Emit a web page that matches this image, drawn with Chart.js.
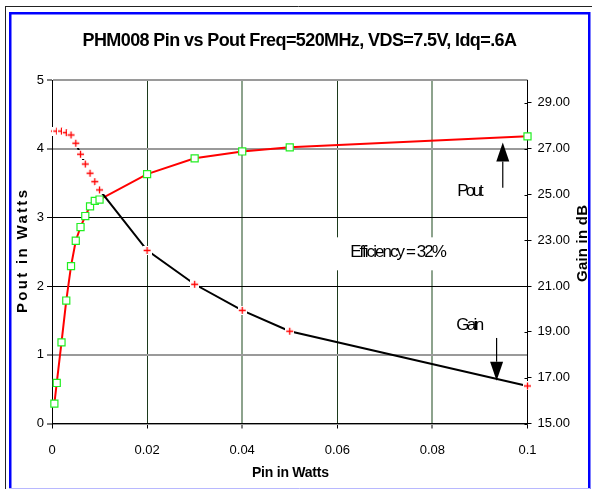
<!DOCTYPE html>
<html>
<head>
<meta charset="utf-8">
<title>PHM008 Pin vs Pout</title>
<style>
  html, body { margin: 0; padding: 0; background: #fff; }
  canvas { display: block; }
</style>
<script src="https://cdn.jsdelivr.net/npm/chart.js@4.4.1/dist/chart.umd.min.js"></script>
</head>
<body>
<canvas id="chart" width="592" height="489"></canvas>
<script>
// values
const pinW = [0.0005, 0.001, 0.002, 0.003, 0.004, 0.005, 0.006, 0.007, 0.008, 0.009, 0.01, 0.02, 0.03, 0.04, 0.05, 0.1];
const poutW = [0.29, 0.59, 1.18, 1.79, 2.29, 2.66, 2.86, 3.02, 3.16, 3.24, 3.26, 3.63, 3.86, 3.96, 4.02, 4.18];
const gainDb = [27.77, 27.77, 27.77, 27.70, 27.60, 27.24, 26.76, 26.33, 25.93, 25.56, 25.20, 22.56, 21.08, 19.94, 19.03, 16.64];
const gainTicks = [15, 17, 19, 21, 23, 25, 27, 29];

const chartTitle = "PHM008 Pin vs Pout Freq=520MHz, VDS=7.5V, Idq=.6A";
const FONT = "'Liberation Sans', Arial, sans-serif";

// "+" marker with a small white box behind it (hides the line, like the original)
function crossMarker() {
  const c = document.createElement("canvas");
  c.width = 9;
  c.height = 9;
  const g = c.getContext("2d");
  g.fillStyle = "#fff";
  g.fillRect(0, 0, 9, 9);
  g.strokeStyle = "#ff0000";
  g.lineWidth = 1.3;
  g.beginPath();
  g.moveTo(1, 4.5); g.lineTo(8, 4.5);
  g.moveTo(4.5, 1); g.lineTo(4.5, 8);
  g.stroke();
  return c;
}

// draw text squeezed / stretched to a given width (Excel renders it condensed)
function drawFit(ctx, text, font, x, y, width, angle) {
  ctx.save();
  ctx.font = font;
  ctx.letterSpacing = "0px";
  const w = ctx.measureText(text).width;
  ctx.letterSpacing = ((width - w) / (text.length - 1)) + "px";
  ctx.translate(x, y);
  ctx.rotate(angle || 0);
  ctx.textAlign = "left";
  ctx.textBaseline = "alphabetic";
  ctx.fillStyle = "#000";
  ctx.fillText(text, 0, 0);
  ctx.restore();
  ctx.letterSpacing = "0px";
}

function arrow(ctx, x, yTail, yTip) {
  const dir = yTip < yTail ? -1 : 1;
  const headLen = 19, headW = 13;
  ctx.save();
  ctx.strokeStyle = "#000";
  ctx.fillStyle = "#000";
  ctx.lineWidth = 1.2;
  ctx.beginPath();
  ctx.moveTo(x, yTail);
  ctx.lineTo(x, yTip - dir * headLen);
  ctx.stroke();
  ctx.beginPath();
  ctx.moveTo(x, yTip);
  ctx.lineTo(x - headW / 2, yTip - dir * headLen);
  ctx.lineTo(x + headW / 2, yTip - dir * headLen);
  ctx.closePath();
  ctx.fill();
  ctx.restore();
}

const framePlugin = {
  id: "frame",
  beforeDraw(chart) {
    const ctx = chart.ctx;
    ctx.save();
    ctx.fillStyle = "#fff";
    ctx.fillRect(0, 0, chart.width, chart.height);
    ctx.strokeStyle = "#222";
    ctx.lineWidth = 1;
    ctx.beginPath();
    ctx.moveTo(5, 6.5); ctx.lineTo(chart.width, 6.5);
    ctx.moveTo(5.5, 6); ctx.lineTo(5.5, chart.height);
    ctx.stroke();
    ctx.strokeStyle = "#0000ff";
    ctx.lineWidth = 2.5;
    ctx.strokeRect(10.25, 13.25, 579, 482);
    ctx.strokeStyle = "#b8b8ff";
    ctx.lineWidth = 1;
    ctx.beginPath();
    ctx.moveTo(9, 488.5); ctx.lineTo(590, 488.5);
    ctx.stroke();
    ctx.restore();
  },
  afterDraw(chart) {
    const ctx = chart.ctx;
    const xs = chart.scales.x, yl = chart.scales.y, yr = chart.scales.gain;

    // right axis ticks cross the axis line
    ctx.save();
    ctx.strokeStyle = "#000";
    ctx.lineWidth = 1;
    ctx.beginPath();
    yr.ticks.forEach(t => {
      const y = Math.round(yr.getPixelForValue(t.value)) + 0.5;
      ctx.moveTo(yr.left - 3, y); ctx.lineTo(yr.left, y);
    });
    ctx.stroke();
    ctx.restore();

    // titles
    drawFit(ctx, chartTitle, "bold 18px " + FONT, 82.5, 45.7, 434.5);
    drawFit(ctx, "Pout in Watts", "bold 15px " + FONT, 26.8, 313, 123, -Math.PI / 2);
    drawFit(ctx, "Gain in dB", "bold 15px " + FONT, 586.5, 282, 77, -Math.PI / 2);
    drawFit(ctx, "Pin in Watts", "bold 14px " + FONT, 252, 476.5, 77);

    // efficiency note on a white box
    const ex = xs.getPixelForValue(0.0627), ey = yl.getPixelForValue(2.419);
    ctx.save();
    ctx.fillStyle = "#fff";
    ctx.fillRect(ex - 16, ey - 20, 118, 33);
    ctx.restore();
    drawFit(ctx, "Efficiency = 32%", "17px " + FONT, ex, ey, 96.7);

    // series notes with arrows
    drawFit(ctx, "Pout", "17px " + FONT, xs.getPixelForValue(0.0852), yl.getPixelForValue(3.311), 26.7);
    drawFit(ctx, "Gain", "17px " + FONT, xs.getPixelForValue(0.0850), yl.getPixelForValue(1.361), 28);
    arrow(ctx, xs.getPixelForValue(0.0948), yl.getPixelForValue(3.43), yl.getPixelForValue(4.09));
    arrow(ctx, xs.getPixelForValue(0.0935), yl.getPixelForValue(1.245), yl.getPixelForValue(0.623));
  }
};

const near = (a, b) => Math.abs(a - b) < 1e-9;
const tickFont = { family: FONT, size: 13 };

new Chart(document.getElementById("chart"), {
  type: "line",
  data: {
    datasets: [
      {
        label: "Gain",
        data: pinW.map((x, i) => ({ x: x, y: gainDb[i] })),
        yAxisID: "gain",
        borderColor: "#000",
        borderWidth: 2,
        pointStyle: crossMarker(),
        tension: 0,
        clip: false
      },
      {
        label: "Pout",
        data: pinW.map((x, i) => ({ x: x, y: poutW[i] })),
        yAxisID: "y",
        borderColor: "#ff0000",
        borderWidth: 2,
        pointStyle: "rect",
        pointRadius: 5,
        pointBorderColor: "#22ee22",
        pointBackgroundColor: "#fff",
        pointBorderWidth: 1.2,
        tension: 0,
        clip: false
      }
    ]
  },
  options: {
    responsive: false,
    animation: false,
    layout: { padding: { top: 80, left: 0, right: 0, bottom: 0 } },
    plugins: {
      legend: { display: false },
      title: { display: false },
      tooltip: { enabled: false }
    },
    scales: {
      x: {
        type: "linear",
        min: 0,
        max: 0.1,
        ticks: {
          stepSize: 0.02, color: "#000", font: tickFont, padding: 14,
          callback: v => String(Number(v.toFixed(4)))
        },
        grid: {
          color: c => (near(c.tick.value, 0.04) || near(c.tick.value, 0.08)) ? "#8da38d" :
                      (near(c.tick.value, 0.02) || near(c.tick.value, 0.06)) ? "#1c3a1c" : "#000",
          lineWidth: c => (near(c.tick.value, 0.04) || near(c.tick.value, 0.08)) ? 2 : 1,
          tickColor: "#000",
          tickWidth: 1,
          tickLength: 5
        },
        border: { color: "#000", width: 1 },
        afterFit: s => { s.height = 65.5; }
      },
      y: {
        position: "left",
        min: 0,
        max: 5,
        ticks: { stepSize: 1, color: "#000", font: tickFont, padding: 3 },
        grid: {
          color: c => (c.tick.value === 2 || c.tick.value === 3) ? "#000" : "#9a9a9a",
          lineWidth: c => (c.tick.value === 2 || c.tick.value === 3) ? 1 : 2,
          tickColor: "#000",
          tickWidth: 1,
          tickLength: 5
        },
        border: { color: "#000", width: 1 },
        afterFit: s => { s.width = 52; }
      },
      gain: {
        position: "right",
        min: 15,
        max: 30,
        afterBuildTicks: s => { s.ticks = gainTicks.map(v => ({ value: v })); },
        ticks: { color: "#000", font: tickFont, padding: 6, callback: v => v.toFixed(2) },
        grid: { drawOnChartArea: false, color: "#000", tickLength: 4, tickWidth: 1 },
        border: { color: "#000", width: 1 },
        afterFit: s => { s.width = 64.5; }
      }
    }
  },
  plugins: [framePlugin]
});
</script>
</body>
</html>
